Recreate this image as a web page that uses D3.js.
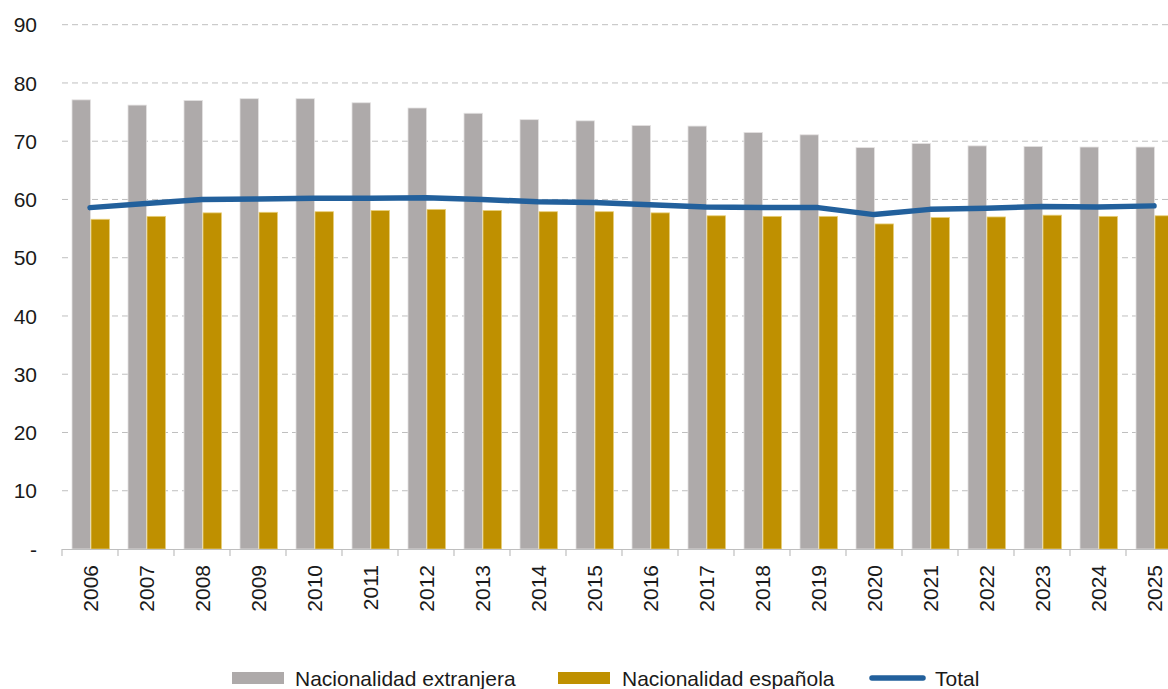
<!DOCTYPE html>
<html>
<head>
<meta charset="utf-8">
<script src="https://cdn.jsdelivr.net/npm/d3@7"></script>
<style>
  html, body { margin: 0; padding: 0; background: #fff; }
  svg { display: block; font-family: "Liberation Sans", Arial, sans-serif; }
</style>
</head>
<body>
<div id="chart"></div>
<script>
const years = ['2006', '2007', '2008', '2009', '2010', '2011', '2012', '2013', '2014', '2015',
  '2016', '2017', '2018', '2019', '2020', '2021', '2022', '2023', '2024', '2025'];

const extranjera = [77.1, 76.2, 77.0, 77.3, 77.3, 76.6, 75.7, 74.8, 73.7, 73.5,
  72.7, 72.6, 71.5, 71.1, 68.9, 69.6, 69.2, 69.1, 69.0, 69.0];

const espanola = [56.6, 57.1, 57.7, 57.8, 57.9, 58.1, 58.3, 58.1, 57.9, 57.9,
  57.7, 57.2, 57.1, 57.1, 55.8, 56.9, 57.0, 57.3, 57.1, 57.2];

const total = [58.6, 59.3, 60.0, 60.1, 60.2, 60.2, 60.3, 60.0, 59.6, 59.5,
  59.1, 58.7, 58.6, 58.6, 57.4, 58.3, 58.5, 58.8, 58.7, 58.9];

const yTicks = [0, 10, 20, 30, 40, 50, 60, 70, 80, 90];

const seriesNames = ['Nacionalidad extranjera', 'Nacionalidad española', 'Total'];

const COLORS = {
  extranjera: '#aeaaaa',
  espanola: '#bf9000',
  total: '#22609c',
  grid: '#bfbfbf',
  text: '#1a1a1a',
};

const width = 1168;
const height = 689;
const margin = { top: 25, left: 62, bottom: 140 };
const plotRight = 1182;
const plotBottom = height - margin.bottom;

const svg = d3.select('#chart')
  .append('svg')
  .attr('width', width)
  .attr('height', height);

const x = d3.scaleBand()
  .domain(years)
  .range([margin.left, plotRight])
  .paddingInner(0)
  .paddingOuter(0);

const y = d3.scaleLinear()
  .domain([0, 90])
  .range([549, 24.7]);

// gridlines
svg.append('g')
  .selectAll('line')
  .data(yTicks.filter(d => d > 0))
  .enter()
  .append('line')
  .attr('x1', margin.left)
  .attr('x2', width)
  .attr('y1', d => y(d))
  .attr('y2', d => y(d))
  .attr('stroke', COLORS.grid)
  .attr('stroke-width', 1)
  .attr('stroke-dasharray', '6 4');

// y labels
svg.append('g')
  .selectAll('text')
  .data(yTicks)
  .enter()
  .append('text')
  .attr('x', 37)
  .attr('y', d => y(d))
  .attr('dy', '0.36em')
  .attr('text-anchor', 'end')
  .attr('font-size', '21px')
  .attr('fill', COLORS.text)
  .text(d => d === 0 ? '-' : d);

// bars
const bw = x.bandwidth();
const barW = 18.5;
const barOff = 10;

const groups = svg.append('g')
  .selectAll('g')
  .data(years)
  .enter()
  .append('g');

groups.append('rect')
  .attr('x', d => x(d) + barOff)
  .attr('y', (d, i) => y(extranjera[i]))
  .attr('width', barW)
  .attr('height', (d, i) => y(0) - y(extranjera[i]))
  .attr('fill', COLORS.extranjera)
  .attr('stroke', '#e4e2e2')
  .attr('stroke-width', 0.8);

groups.append('rect')
  .attr('x', d => x(d) + barOff + barW + 0.5)
  .attr('y', (d, i) => y(espanola[i]))
  .attr('width', barW)
  .attr('height', (d, i) => y(0) - y(espanola[i]))
  .attr('fill', COLORS.espanola)
  .attr('stroke', '#e8cf7a')
  .attr('stroke-width', 0.8);

// x axis
const xAxis = svg.append('g');
xAxis.append('line')
  .attr('x1', margin.left)
  .attr('x2', width)
  .attr('y1', y(0) + 0.5)
  .attr('y2', y(0) + 0.5)
  .attr('stroke', COLORS.grid)
  .attr('stroke-width', 1.2);

xAxis.selectAll('.tick')
  .data(years.concat(['end']))
  .enter()
  .append('line')
  .attr('x1', (d, i) => margin.left + i * bw)
  .attr('x2', (d, i) => margin.left + i * bw)
  .attr('y1', y(0))
  .attr('y2', y(0) + 7)
  .attr('stroke', COLORS.grid)
  .attr('stroke-width', 1.2);

xAxis.selectAll('text')
  .data(years)
  .enter()
  .append('text')
  .attr('transform', d => `translate(${x(d) + bw / 2},565) rotate(-90)`)
  .attr('dy', '0.36em')
  .attr('text-anchor', 'end')
  .attr('font-size', '21px')
  .attr('fill', COLORS.text)
  .text(d => d);

// total line
const line = d3.line()
  .x((d, i) => x(years[i]) + bw / 2)
  .y(d => y(d));

svg.append('path')
  .datum(total)
  .attr('d', line)
  .attr('fill', 'none')
  .attr('stroke', COLORS.total)
  .attr('stroke-width', 5.5)
  .attr('stroke-linecap', 'round')
  .attr('stroke-linejoin', 'round');

// legend
const legend = svg.append('g');
const legendY = 678;

legend.append('rect')
  .attr('x', 232).attr('y', 672).attr('width', 52).attr('height', 12)
  .attr('fill', COLORS.extranjera);
legend.append('text')
  .attr('x', 295).attr('y', legendY).attr('dy', '0.36em')
  .attr('font-size', '21px').attr('fill', COLORS.text)
  .text(seriesNames[0]);

legend.append('rect')
  .attr('x', 558).attr('y', 672).attr('width', 52).attr('height', 12)
  .attr('fill', COLORS.espanola);
legend.append('text')
  .attr('x', 622).attr('y', legendY).attr('dy', '0.36em')
  .attr('font-size', '21px').attr('fill', COLORS.text)
  .text(seriesNames[1]);

legend.append('line')
  .attr('x1', 872).attr('x2', 923).attr('y1', legendY).attr('y2', legendY)
  .attr('stroke', COLORS.total).attr('stroke-width', 5.5)
  .attr('stroke-linecap', 'round');
legend.append('text')
  .attr('x', 935).attr('y', legendY).attr('dy', '0.36em')
  .attr('font-size', '21px').attr('fill', COLORS.text)
  .text(seriesNames[2]);
</script>
</body>
</html>
